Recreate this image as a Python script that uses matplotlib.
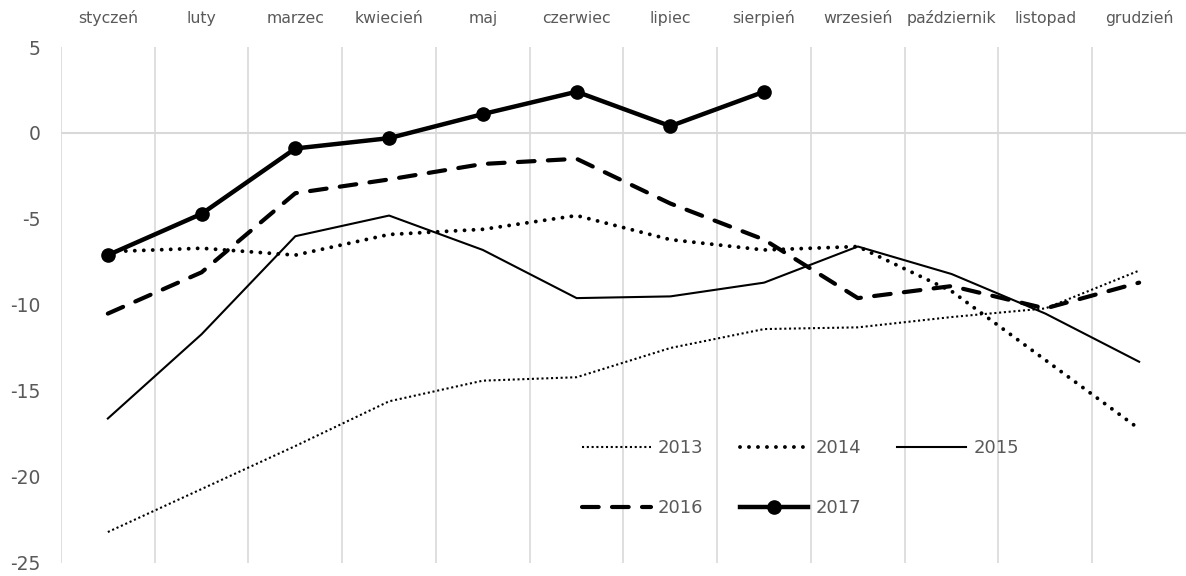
import numpy as np
import matplotlib
matplotlib.use("Agg")
import matplotlib.pyplot as plt

months = ["styczeń", "luty", "marzec", "kwiecień", "maj", "czerwiec", "lipiec",
          "sierpień", "wrzesień", "październik", "listopad", "grudzień"]

y2013 = [-23.2, -20.7, -18.2, -15.6, -14.4, -14.2, -12.5, -11.4, -11.3, -10.7, -10.2, -8.0]
y2014 = [-6.9, -6.7, -7.1, -5.9, -5.6, -4.8, -6.2, -6.8, -6.6, -9.2, -13.2, -17.2]
y2015 = [-16.6, -11.7, -6.0, -4.8, -6.8, -9.6, -9.5, -8.7, -6.6, -8.2, -10.5, -13.3]
y2016 = [-10.5, -8.1, -3.5, -2.7, -1.8, -1.5, -4.1, -6.2, -9.6, -8.9, -10.2, -8.7]
y2017 = [-7.1, -4.7, -0.9, -0.3, 1.1, 2.4, 0.4, 2.4]

TXT = "#595959"
GRID = "#d9d9d9"

plt.rcParams["font.family"] = ["DejaVu Sans"]
plt.rcParams["axes.unicode_minus"] = False

fig = plt.figure(figsize=(11.86, 5.76), dpi=100)
ax = fig.add_axes([0.0514, 0.0226, 0.9486, 0.8958])

x = np.arange(len(months))

l13, = ax.plot(x, y2013, color="black", lw=1.5, dashes=(1, 1.3), label="2013")
l14, = ax.plot(x, y2014, color="black", lw=2.8, dashes=(0.01, 2.3),
               dash_capstyle="round", label="2014")
l15, = ax.plot(x, y2015, color="black", lw=1.5, label="2015")
l16, = ax.plot(x, y2016, color="black", lw=3.0, dashes=(4, 3.2),
               dash_capstyle="round", label="2016")
l17, = ax.plot(x[:len(y2017)], y2017, color="black", lw=3.2, marker="o",
               markersize=9.5, label="2017")

ax.set_xlim(-0.5, len(months) - 0.5)
ax.set_ylim(-25, 5)

# month labels on top, grid between categories
ax.xaxis.tick_top()
ax.set_xticks(x)
ax.set_xticklabels(months, fontsize=11.3, color=TXT)
ax.set_xticks(np.arange(-0.5, len(months) - 0.5, 1), minor=True)
ax.tick_params(axis="x", which="both", length=0, pad=15)
ax.grid(which="minor", axis="x", color=GRID, lw=1.2)
ax.axhline(0, color=GRID, lw=1.5, zorder=0)
ax.set_axisbelow(True)

ax.set_yticks(np.arange(-25, 6, 5))
ax.tick_params(axis="y", length=0, pad=15, labelsize=13.5, labelcolor=TXT)

for s in ax.spines.values():
    s.set_visible(False)

# legend fills column by column, so order handles to read row by row
handles = [l13, l16, l14, l17, l15]
leg = fig.legend(handles, [h.get_label() for h in handles],
                 loc="center", bbox_to_anchor=(0.675, 0.17), ncol=3,
                 frameon=False, fontsize=13, handlelength=3.8,
                 handletextpad=0.4, columnspacing=2.0, labelspacing=2.3)
for t in leg.get_texts():
    t.set_color(TXT)

fig.savefig("out.png", dpi=100)
